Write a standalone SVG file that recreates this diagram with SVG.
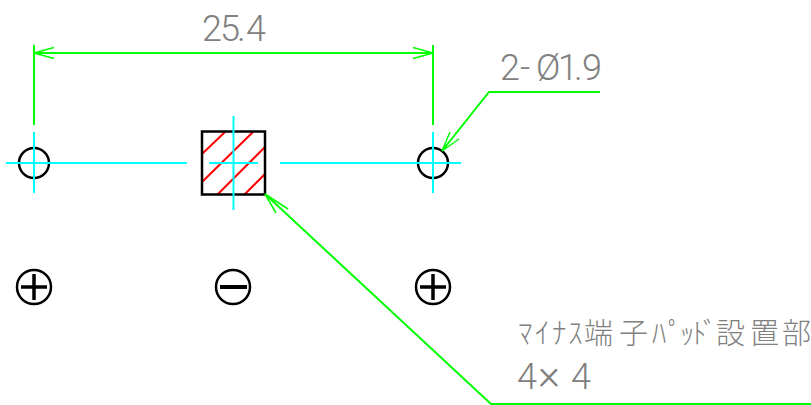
<svg xmlns="http://www.w3.org/2000/svg" width="811" height="405" viewBox="0 0 811 405">
<style>
.g{fill:none;stroke:#00ff00;stroke-width:2}
.g1{fill:none;stroke:#00ff00;stroke-width:1.5}
.c{fill:none;stroke:#00ffff;stroke-width:2}
.k{fill:none;stroke:#000;stroke-width:2.500}
.r{fill:none;stroke:#ff0000;stroke-width:2}
.t{fill:#808080;font-family:"Roboto","Liberation Sans","Noto Sans CJK JP",sans-serif;font-weight:300;font-size:36px}
.j{fill:#808080;font-family:"Noto Sans CJK JP",sans-serif;font-weight:300;font-size:29px}
</style>
<g id="hole-left">
<circle class="k" cx="34" cy="163" r="15"/>
<path class="c" d="M6 163H187M34 132V193"/>
</g>
<g id="pad">
<path class="r" d="M202 154L225 132M202 182L253 132M217 195L265 147M244 195L265 174"/>
<rect class="k" x="202" y="131.500" width="63" height="63"/>
<path class="c" d="M209 163H258M233.500 116V210"/>
</g>
<g id="hole-right">
<circle class="k" cx="433" cy="163" r="15"/>
<path class="c" d="M280 163H461M433 132V193"/>
</g>
<g id="connectors">
<path class="g" d="M34 45V125M433 45V125M34 53H433"/>
<path class="g1" d="M34 53L54 47.500M34 53L54 58.500M433 53L413 47.500M433 53L413 58.500"/>
<path class="g" d="M600 92H489L442 151"/>
<path class="g1" d="M442 151L450 132M442 151L459 139"/>
<path class="g" d="M265 194L491 404H811"/>
<path class="g1" d="M265 194L276 213M265 194L288 209"/>
</g>
<g id="labels">
<text class="t" x="202 220 237 246" y="41">25.4</text>
<text class="t" x="500 520 536 558 574 582" y="80">2-Ø1.9</text>
<text class="j" x="518 535 552 568 584 619 652 668 680 692 703 716 750 782" y="344">ﾏｲﾅｽ端子ﾊﾟｯﾄﾞ設置部</text>
<text class="t" y="389"><tspan x="517">4</tspan><tspan x="538" style="font-size:42px">×</tspan><tspan x="571">4</tspan></text>
</g>
<g id="plus-left">
<circle class="k" cx="34" cy="287" r="17"/>
<path d="M21 287H47M34 274V300" fill="none" stroke="#000" stroke-width="3.500"/>
</g>
<g id="minus">
<circle class="k" cx="233" cy="287" r="17"/>
<path d="M220 287H247" fill="none" stroke="#000" stroke-width="4"/>
</g>
<g id="plus-right">
<circle class="k" cx="433" cy="287" r="17"/>
<path d="M420 287H446M433 274V300" fill="none" stroke="#000" stroke-width="3.500"/>
</g>
</svg>
